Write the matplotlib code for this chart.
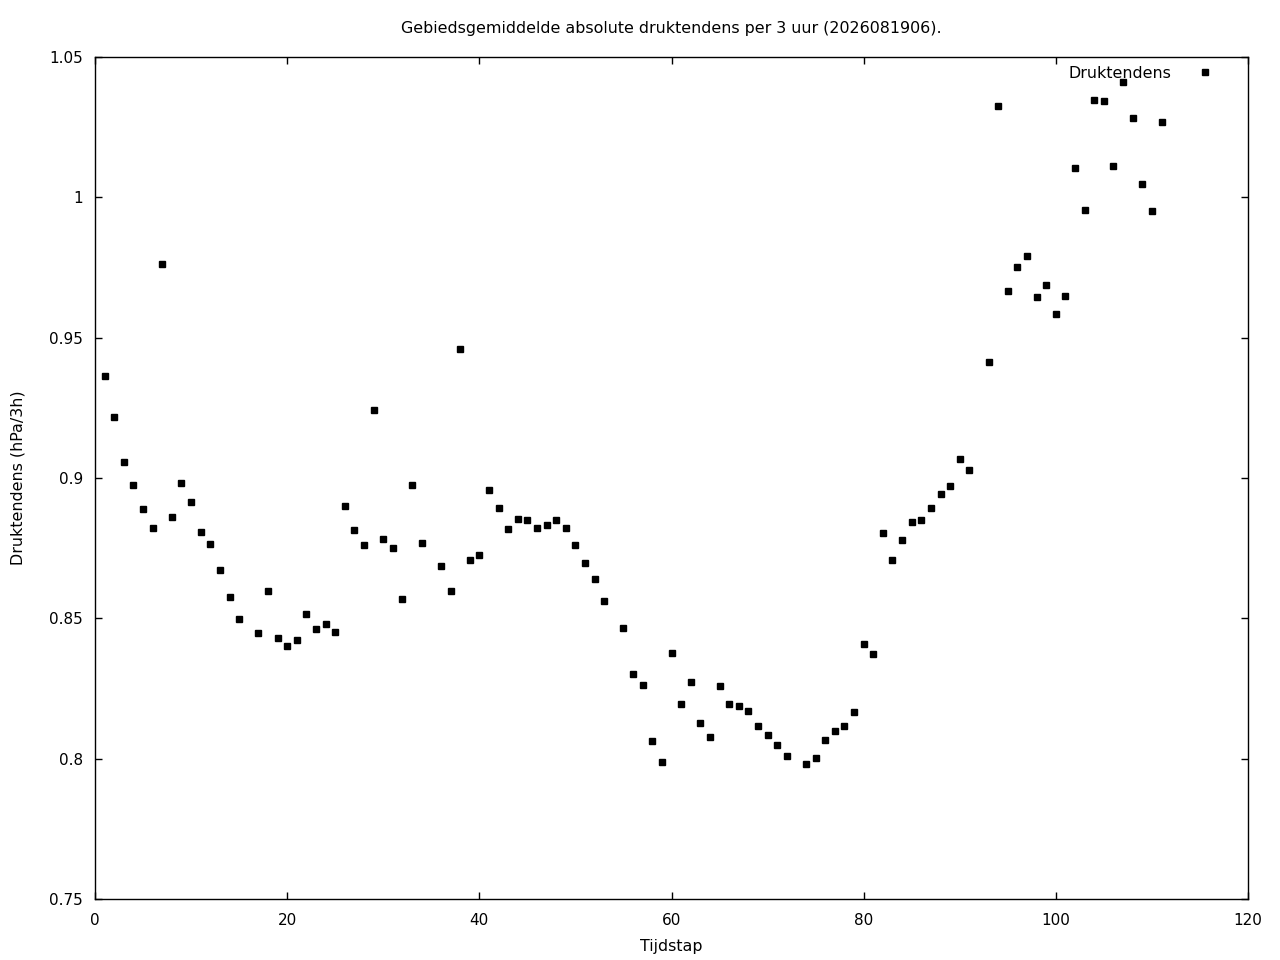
import matplotlib
matplotlib.use('Agg')
import matplotlib.pyplot as plt

# Tijdstappen (16, 35, 54, 73 en 92 ontbreken)
tijdstap = [1, 2, 3, 4, 5, 6, 7, 8, 9, 10, 11, 12, 13, 14, 15,
            17, 18, 19, 20, 21, 22, 23, 24, 25, 26, 27, 28, 29, 30, 31, 32, 33, 34,
            36, 37, 38, 39, 40, 41, 42, 43, 44, 45, 46, 47, 48, 49, 50, 51, 52, 53,
            55, 56, 57, 58, 59, 60, 61, 62, 63, 64, 65, 66, 67, 68, 69, 70, 71, 72,
            74, 75, 76, 77, 78, 79, 80, 81, 82, 83, 84, 85, 86, 87, 88, 89, 90, 91,
            93, 94, 95, 96, 97, 98, 99, 100, 101, 102, 103, 104, 105, 106, 107, 108,
            109, 110, 111]

druktendens = [0.9363, 0.9217, 0.9057, 0.8975, 0.8890, 0.8822, 0.9762, 0.8861,
               0.8982, 0.8915, 0.8808, 0.8765, 0.8672, 0.8576, 0.8498,
               0.8448, 0.8597, 0.8430, 0.8401, 0.8423, 0.8515, 0.8462, 0.8480,
               0.8451, 0.8900, 0.8815, 0.8761, 0.9242, 0.8783, 0.8751, 0.8569,
               0.8975, 0.8768,
               0.8686, 0.8597, 0.9460, 0.8708, 0.8726, 0.8957, 0.8893, 0.8818,
               0.8854, 0.8850, 0.8822, 0.8833, 0.8850, 0.8822, 0.8761, 0.8697,
               0.8640, 0.8562,
               0.8466, 0.8302, 0.8262, 0.8063, 0.7988, 0.8377, 0.8195, 0.8273,
               0.8127, 0.8077, 0.8259, 0.8195, 0.8188, 0.8170, 0.8116, 0.8084,
               0.8049, 0.8010,
               0.7981, 0.8002, 0.8067, 0.8099, 0.8116, 0.8166, 0.8409, 0.8373,
               0.8804, 0.8708, 0.8779, 0.8843, 0.8850, 0.8893, 0.8943, 0.8972,
               0.9068, 0.9029,
               0.9413, 1.0325, 0.9666, 0.9752, 0.9791, 0.9645, 0.9688, 0.9584,
               0.9648, 1.0105, 0.9955, 1.0347, 1.0343, 1.0112, 1.0411, 1.0283,
               1.0048, 0.9951, 1.0268]

xticks = [0, 20, 40, 60, 80, 100, 120]
yticks = [0.75, 0.8, 0.85, 0.9, 0.95, 1.0, 1.05]
ytick_labels = ['0.75', '0.8', '0.85', '0.9', '0.95', '1', '1.05']

plt.rcParams['font.family'] = 'DejaVu Sans'
fs = 11.4

fig = plt.figure(figsize=(12.8, 9.6), dpi=100)
ax = fig.add_axes([95 / 1280, 1 - 899 / 960, (1248 - 95) / 1280, (899 - 57) / 960])

ax.plot(tijdstap, druktendens, linestyle='none', marker='s', markersize=5,
        color='black', label='Druktendens')

ax.set_xlim(0, 120)
ax.set_ylim(0.75, 1.05)
ax.set_xticks(xticks)
ax.set_yticks(yticks)
ax.set_yticklabels(ytick_labels)
ax.tick_params(direction='in', top=True, right=True, length=5, width=1,
               labelsize=11)
ax.tick_params(axis='x', pad=10)
ax.tick_params(axis='y', pad=8.5)
for s in ax.spines.values():
    s.set_linewidth(1)

# titel en aslabels op vaste plek
fig.text(671.5 / 1280, 1 - 28 / 960,
         'Gebiedsgemiddelde absolute druktendens per 3 uur (2026081906).',
         ha='center', va='center', fontsize=fs)
fig.text(671.5 / 1280, 1 - 946 / 960, 'Tijdstap',
         ha='center', va='center', fontsize=fs)
fig.text(18 / 1280, 1 - 478 / 960, 'Druktendens (hPa/3h)',
         ha='center', va='center', rotation=90, fontsize=fs)

ax.legend(loc='center right', bbox_to_anchor=(1213 / 1280, 1 - 73 / 960),
          bbox_transform=fig.transFigure, frameon=False, markerfirst=False,
          handlelength=1.0, handletextpad=1.65, borderpad=0, borderaxespad=0,
          fontsize=fs)

fig.savefig('out.png', dpi=100)
